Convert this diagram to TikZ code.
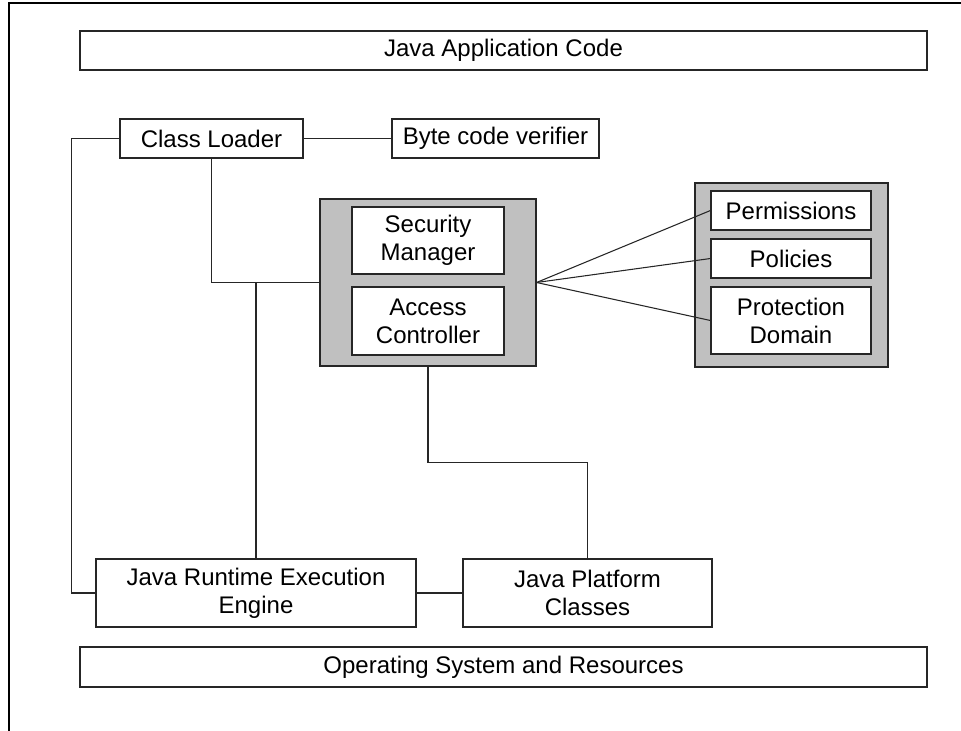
\documentclass[tikz,border=0pt]{standalone}
\usepackage{fontspec}
\setmainfont{Liberation Sans}
\usepackage{xcolor}
\usepackage{tikz}
\usetikzlibrary{positioning,calc}
\definecolor{panelgray}{RGB}{192,192,192}

\begin{document}
\begin{tikzpicture}[
  x=0.75pt, y=-0.75pt,
  box/.style={draw=black!85, line width=0.8pt, fill=white, inner sep=0pt,
              align=center, font=\fontsize{18}{21}\selectfont},
  panel/.style={draw=black!85, line width=0.8pt, fill=panelgray, inner sep=0pt},
  link/.style={black!85, line width=0.8pt},
]
\useasboundingbox (0,0) rectangle (961,731);
% page frame (left and top edge only)
\draw[line width=0.9pt] (9,731) -- (9,3) -- (961,3);

% top and bottom layers
\node[box, minimum width=635.25pt, minimum height=29.25pt] (app) at (503.5,50.5) {Java Application Code};
\node[box, minimum width=635.25pt, minimum height=30pt] (os) at (503.5,667) {Operating System and Resources};

% class loading
\node[box, minimum width=137.25pt, minimum height=29.25pt] (loader) at (211.5,138.5) {Class Loader};
\node[box, minimum width=155.25pt, minimum height=29.25pt] (verifier) at (495.5,138.5) {Byte code verifier};

% security manager / access controller panel
\node[panel, minimum width=162pt, minimum height=125.25pt] (secpanel) at (428,282.5) {};
\node[box, minimum width=114pt, minimum height=50.25pt] (secmgr) at (428,240.5) {Security\\Manager};
\node[box, minimum width=114pt, minimum height=51pt] (accctl) at (428,321) {Access\\Controller};

% permissions / policies / domain panel
\node[panel, minimum width=144.75pt, minimum height=138pt] (polpanel) at (791.5,275) {};
\node[box, minimum width=120pt, minimum height=29.25pt] (perm) at (791,210.5) {Permissions};
\node[box, minimum width=120pt, minimum height=29.25pt] (pol) at (791,258.5) {Policies};
\node[box, minimum width=120pt, minimum height=50.25pt] (domain) at (791,320.5) {Protection\\Domain};

% runtime
\node[box, minimum width=240pt, minimum height=51pt] (engine) at (256,593) {Java Runtime Execution\\Engine};
\node[box, minimum width=186.75pt, minimum height=51pt] (platform) at (587.5,593) {Java Platform\\Classes};

% connectors
\draw[link] (loader.east) -- (verifier.west);
\draw[link] (loader.west) -- ++(-48,0) |- (engine.west);
\draw[link] (loader.south) |- (secpanel.west);
\draw[link] (engine.north) -- (engine.north |- secpanel.west);
\draw[link] (secpanel.south) -- ++(0,96) -| (platform.north);
\draw[link] (engine.east) -- (platform.west);
\foreach \dst in {perm, pol, domain}{
  \draw[link] (secpanel.east) -- (\dst.west);
}
\end{tikzpicture}
\end{document}
